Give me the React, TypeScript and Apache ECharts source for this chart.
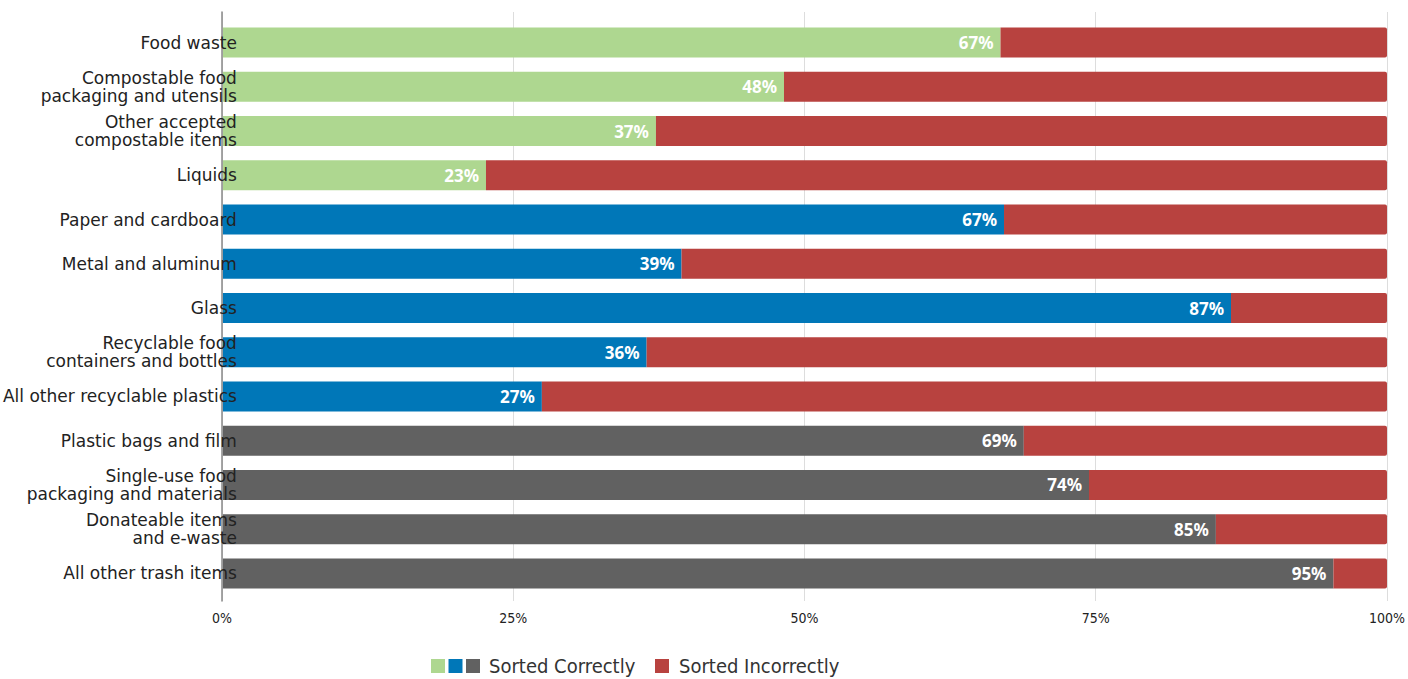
import React, { useEffect, useRef } from "react";
import * as echarts from "echarts";

const categories = [
  "Food waste",
  "Compostable food\npackaging and utensils",
  "Other accepted\ncompostable items",
  "Liquids",
  "Paper and cardboard",
  "Metal and aluminum",
  "Glass",
  "Recyclable food\ncontainers and bottles",
  "All other recyclable plastics",
  "Plastic bags and film",
  "Single-use food\npackaging and materials",
  "Donateable items\nand e-waste",
  "All other trash items",
];

const streams = [
  "compost", "compost", "compost", "compost",
  "recycling", "recycling", "recycling", "recycling", "recycling",
  "trash", "trash", "trash", "trash",
];

const sortedCorrectly = [66.8, 48.2, 37.2, 22.6, 67.1, 39.4, 86.6, 36.4, 27.4, 68.8, 74.4, 85.3, 95.4];
const sortedIncorrectly = sortedCorrectly.map((v) => +(100 - v).toFixed(1));

const xTicks = [0, 25, 50, 75, 100];

const streamSeries = [
  { key: "compost", name: "Sorted Correctly (compost)", color: "#aed790" },
  { key: "recycling", name: "Sorted Correctly (recycling)", color: "#0077b8" },
  { key: "trash", name: "Sorted Correctly", color: "#616161" },
];

export default function App() {
  const ref = useRef<HTMLDivElement>(null);

  useEffect(() => {
    document.body.style.margin = "0";
    const chart = echarts.init(ref.current!, null, { renderer: "svg" });

    const valueLabel = {
      show: true,
      position: "insideRight",
      distance: 7,
      color: "#ffffff",
      fontWeight: "bold",
      fontSize: 17,
      fontFamily: "Noto Sans",
      formatter: (p: any) => Math.round(p.value) + "%",
    };

    const series: any[] = streamSeries.map((s) => ({
      type: "bar",
      name: s.name,
      stack: "total",
      xAxisIndex: 0,
      yAxisIndex: 0,
      barWidth: 30,
      itemStyle: { color: s.color },
      label: valueLabel,
      data: sortedCorrectly.map((v, i) => (streams[i] === s.key ? v : "-")),
    }));
    series.push({
      type: "bar",
      name: "Sorted Incorrectly",
      stack: "total",
      xAxisIndex: 0,
      yAxisIndex: 0,
      barWidth: 30,
      itemStyle: { color: "#b8423f", borderRadius: [0, 2, 2, 0] },
      data: sortedIncorrectly,
    });

    const legendText = {
      fontFamily: "DejaVu Sans Condensed",
      fontSize: 20,
      color: "#333333",
      padding: [0, 0, 0, 4],
    };

    chart.setOption({
      animation: false,
      grid: [
        { left: 222, right: 21, top: 20.5, bottom: 83.5 },
        { left: 222, right: 21, top: 12, bottom: 78 },
      ],
      xAxis: [
        {
          type: "value",
          gridIndex: 0,
          min: 0,
          max: 100,
          interval: 25,
          show: false,
        },
        {
          type: "value",
          gridIndex: 1,
          min: xTicks[0],
          max: xTicks[xTicks.length - 1],
          interval: 25,
          axisLine: { show: false },
          axisTick: { show: false },
          splitLine: { show: true, lineStyle: { color: "#dddddd", width: 1 } },
          axisLabel: {
            margin: 10,
            fontSize: 14,
            fontFamily: "DejaVu Sans Condensed",
            color: "#222222",
            formatter: "{value}%",
          },
        },
      ],
      yAxis: [
        {
          type: "category",
          gridIndex: 0,
          data: categories,
          inverse: true,
          z: 10,
          axisLine: { show: false },
          axisTick: { show: false },
          splitLine: { show: false },
          axisLabel: {
            margin: -14,
            align: "right",
            fontSize: 17,
            lineHeight: 18,
            fontFamily: "DejaVu Sans",
            color: "#222222",
          },
        },
        {
          type: "value",
          gridIndex: 1,
          min: 0,
          max: 1,
          z: 10,
          axisLine: { show: true, lineStyle: { color: "#888888", width: 1.5 } },
          axisTick: { show: false },
          axisLabel: { show: false },
          splitLine: { show: false },
        },
      ],
      legend: [
        {
          data: streamSeries.map((s) => s.name),
          left: 426,
          top: 651,
          itemWidth: 14,
          itemHeight: 14,
          itemGap: 3.5,
          icon: "rect",
          selectedMode: false,
          formatter: (name: string) => (name === "Sorted Correctly" ? name : ""),
          textStyle: legendText,
        },
        {
          data: ["Sorted Incorrectly"],
          left: 650,
          top: 651,
          itemWidth: 14,
          itemHeight: 14,
          icon: "rect",
          selectedMode: false,
          textStyle: { ...legendText, padding: [0, 0, 0, 5] },
        },
      ],
      series,
    });

    return () => chart.dispose();
  }, []);

  return <div ref={ref} style={{ width: 1408, height: 679 }} />;
}
